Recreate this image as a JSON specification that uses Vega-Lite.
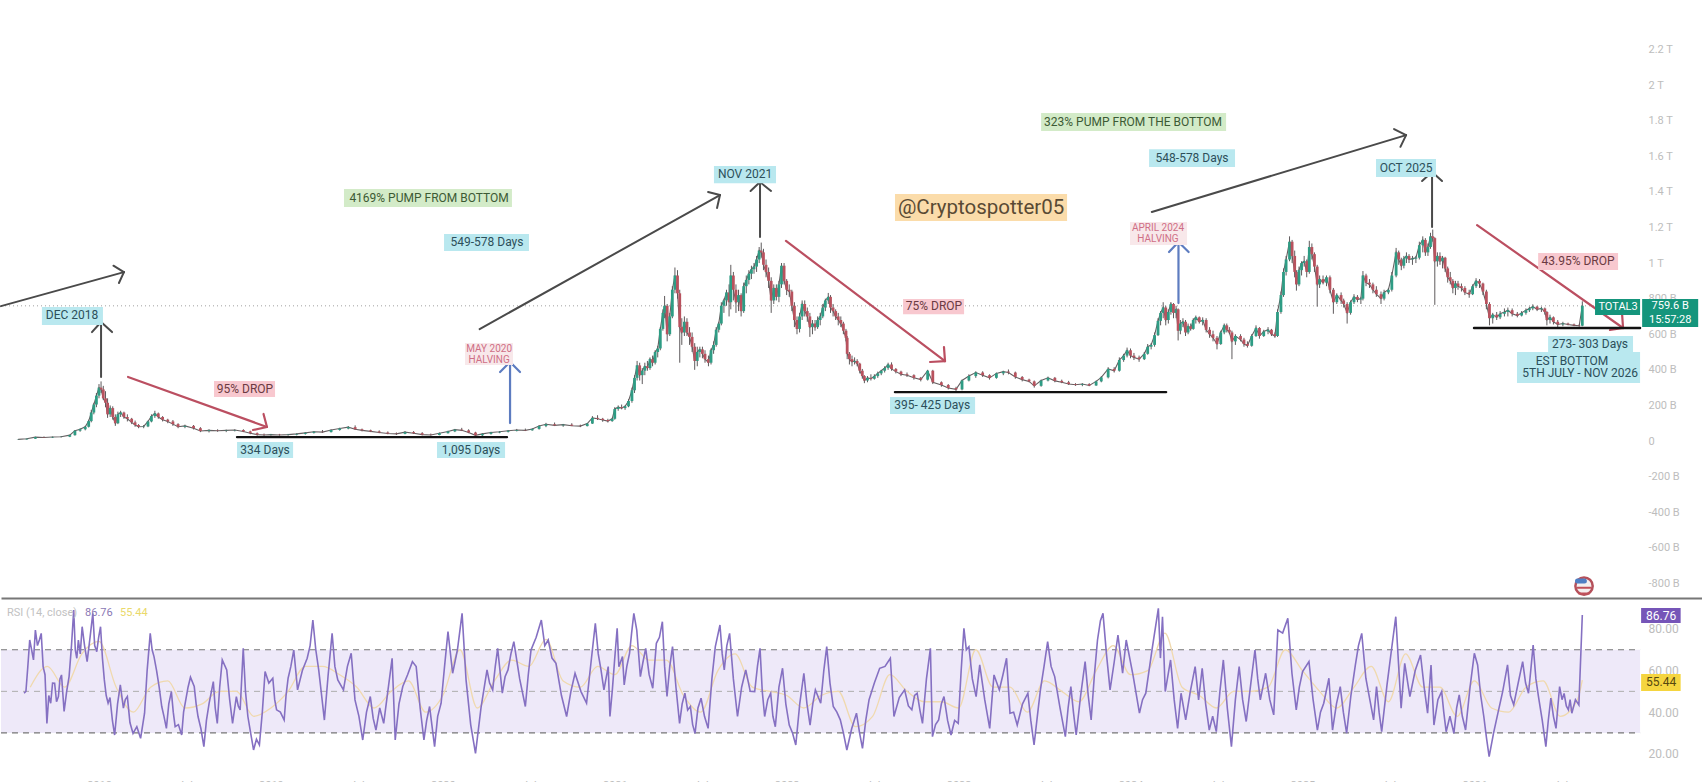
{
"$schema":"https://vega.github.io/schema/vega-lite/v6.json",
"background":"#ffffff",
"padding":0,
"spacing":0,
"bounds":"flush",
"config":{"view":{"stroke":null},"font":"Roboto","legend":{"disable":true},"axis":{"grid":false,"title":null}},
"datasets":{
"candles":[
{"t":2017.53,"o":8,"h":10,"l":6,"c":9},{"t":2017.58,"o":9,"h":14,"l":8,"c":13},{"t":2017.63,"o":13,"h":24,"l":12,"c":22},{"t":2017.68,"o":22,"h":26,"l":18,"c":20},{"t":2017.73,"o":20,"h":25,"l":17,"c":23},{"t":2017.78,"o":23,"h":28,"l":20,"c":24},{"t":2017.83,"o":24,"h":35,"l":22,"c":33},{"t":2017.86,"o":33,"h":62,"l":30,"c":58},{"t":2017.89,"o":58,"h":72,"l":52,"c":66},{"t":2017.92,"o":66,"h":85,"l":60,"c":80},{"t":2017.94,"o":80,"h":120,"l":76,"c":112},{"t":2017.955,"o":112,"h":175,"l":105,"c":160},{"t":2017.97,"o":160,"h":215,"l":150,"c":205},{"t":2017.985,"o":205,"h":270,"l":190,"c":255},{"t":2018,"o":255,"h":320,"l":240,"c":300},{"t":2018.012,"o":300,"h":335,"l":270,"c":290},{"t":2018.025,"o":290,"h":310,"l":230,"c":240},{"t":2018.038,"o":240,"h":280,"l":190,"c":215},{"t":2018.05,"o":215,"h":240,"l":130,"c":150},{"t":2018.065,"o":150,"h":200,"l":135,"c":185},{"t":2018.08,"o":185,"h":195,"l":120,"c":135},{"t":2018.095,"o":135,"h":150,"l":85,"c":100},{"t":2018.11,"o":100,"h":165,"l":95,"c":150},{"t":2018.126,"o":150,"h":170,"l":135,"c":160},{"t":2018.145,"o":160,"h":165,"l":125,"c":135},{"t":2018.165,"o":135,"h":150,"l":110,"c":125},{"t":2018.19,"o":125,"h":130,"l":95,"c":105},{"t":2018.21,"o":105,"h":115,"l":80,"c":90},{"t":2018.23,"o":90,"h":95,"l":72,"c":80},{"t":2018.26,"o":80,"h":90,"l":72,"c":82},{"t":2018.285,"o":82,"h":115,"l":78,"c":110},{"t":2018.305,"o":110,"h":150,"l":105,"c":140},{"t":2018.325,"o":140,"h":170,"l":130,"c":155},{"t":2018.345,"o":155,"h":160,"l":125,"c":135},{"t":2018.37,"o":135,"h":140,"l":110,"c":120},{"t":2018.4,"o":120,"h":125,"l":100,"c":110},{"t":2018.43,"o":110,"h":118,"l":85,"c":95},{"t":2018.46,"o":95,"h":100,"l":72,"c":80},{"t":2018.5,"o":80,"h":92,"l":72,"c":85},{"t":2018.55,"o":85,"h":90,"l":65,"c":72},{"t":2018.59,"o":72,"h":78,"l":50,"c":56},{"t":2018.64,"o":56,"h":66,"l":48,"c":60},{"t":2018.69,"o":60,"h":66,"l":52,"c":58},{"t":2018.74,"o":58,"h":64,"l":50,"c":60},{"t":2018.79,"o":60,"h":66,"l":54,"c":62},{"t":2018.84,"o":62,"h":66,"l":50,"c":54},{"t":2018.88,"o":54,"h":58,"l":38,"c":44},{"t":2018.92,"o":44,"h":48,"l":30,"c":36},{"t":2018.96,"o":36,"h":42,"l":28,"c":34},{"t":2019,"o":34,"h":40,"l":30,"c":36},{"t":2019.05,"o":36,"h":40,"l":30,"c":34},{"t":2019.1,"o":34,"h":40,"l":30,"c":36},{"t":2019.15,"o":36,"h":44,"l":32,"c":40},{"t":2019.2,"o":40,"h":50,"l":36,"c":46},{"t":2019.25,"o":46,"h":56,"l":42,"c":52},{"t":2019.3,"o":52,"h":62,"l":46,"c":50},{"t":2019.35,"o":50,"h":66,"l":48,"c":62},{"t":2019.4,"o":62,"h":75,"l":58,"c":70},{"t":2019.45,"o":70,"h":84,"l":66,"c":78},{"t":2019.49,"o":78,"h":88,"l":62,"c":66},{"t":2019.53,"o":66,"h":70,"l":54,"c":60},{"t":2019.58,"o":60,"h":64,"l":50,"c":54},{"t":2019.63,"o":54,"h":60,"l":44,"c":48},{"t":2019.68,"o":48,"h":54,"l":38,"c":42},{"t":2019.73,"o":42,"h":48,"l":34,"c":40},{"t":2019.78,"o":40,"h":56,"l":38,"c":50},{"t":2019.83,"o":50,"h":56,"l":40,"c":44},{"t":2019.88,"o":44,"h":50,"l":32,"c":36},{"t":2019.93,"o":36,"h":42,"l":30,"c":34},{"t":2019.98,"o":34,"h":48,"l":32,"c":44},{"t":2020.03,"o":44,"h":58,"l":42,"c":54},{"t":2020.07,"o":54,"h":68,"l":50,"c":64},{"t":2020.11,"o":64,"h":74,"l":56,"c":60},{"t":2020.15,"o":60,"h":66,"l":44,"c":48},{"t":2020.19,"o":48,"h":52,"l":24,"c":32},{"t":2020.23,"o":32,"h":44,"l":28,"c":40},{"t":2020.28,"o":40,"h":52,"l":36,"c":48},{"t":2020.33,"o":48,"h":56,"l":44,"c":52},{"t":2020.38,"o":52,"h":62,"l":48,"c":58},{"t":2020.43,"o":58,"h":68,"l":54,"c":62},{"t":2020.48,"o":62,"h":70,"l":56,"c":60},{"t":2020.52,"o":60,"h":72,"l":58,"c":68},{"t":2020.56,"o":68,"h":90,"l":64,"c":84},{"t":2020.6,"o":84,"h":102,"l":78,"c":94},{"t":2020.65,"o":94,"h":104,"l":84,"c":88},{"t":2020.7,"o":88,"h":96,"l":80,"c":92},{"t":2020.75,"o":92,"h":100,"l":84,"c":86},{"t":2020.8,"o":86,"h":92,"l":78,"c":84},{"t":2020.84,"o":84,"h":100,"l":82,"c":98},{"t":2020.87,"o":98,"h":140,"l":96,"c":130},{"t":2020.9,"o":130,"h":145,"l":118,"c":125},{"t":2020.93,"o":125,"h":130,"l":108,"c":118},{"t":2020.96,"o":118,"h":125,"l":104,"c":112},{"t":2020.985,"o":112,"h":130,"l":108,"c":125},{"t":2021,"o":125,"h":190,"l":120,"c":180},
{"t":2021.02,"o":180,"h":200,"l":170,"c":190},{"t":2021.04,"o":190,"h":205,"l":178,"c":185},{"t":2021.06,"o":185,"h":200,"l":175,"c":195},{"t":2021.08,"o":195,"h":235,"l":190,"c":225},{"t":2021.1,"o":225,"h":300,"l":215,"c":285},{"t":2021.115,"o":285,"h":370,"l":270,"c":355},{"t":2021.13,"o":355,"h":450,"l":340,"c":425},{"t":2021.145,"o":425,"h":440,"l":340,"c":370},{"t":2021.16,"o":370,"h":410,"l":320,"c":395},{"t":2021.175,"o":395,"h":440,"l":370,"c":420},{"t":2021.19,"o":420,"h":450,"l":395,"c":410},{"t":2021.205,"o":410,"h":470,"l":400,"c":460},{"t":2021.22,"o":460,"h":480,"l":420,"c":440},{"t":2021.235,"o":440,"h":510,"l":430,"c":500},{"t":2021.25,"o":500,"h":535,"l":470,"c":520},{"t":2021.265,"o":520,"h":640,"l":510,"c":630},{"t":2021.28,"o":630,"h":740,"l":620,"c":720},{"t":2021.29,"o":720,"h":815,"l":690,"c":760},{"t":2021.305,"o":760,"h":770,"l":560,"c":600},{"t":2021.32,"o":600,"h":720,"l":590,"c":700},{"t":2021.335,"o":700,"h":870,"l":690,"c":850},{"t":2021.35,"o":850,"h":975,"l":830,"c":930},{"t":2021.365,"o":930,"h":960,"l":800,"c":830},{"t":2021.378,"o":830,"h":850,"l":440,"c":640},{"t":2021.39,"o":640,"h":690,"l":540,"c":610},{"t":2021.405,"o":610,"h":700,"l":590,"c":670},{"t":2021.42,"o":670,"h":690,"l":590,"c":610},{"t":2021.435,"o":610,"h":640,"l":540,"c":585},{"t":2021.45,"o":585,"h":610,"l":500,"c":530},{"t":2021.465,"o":530,"h":550,"l":400,"c":450},{"t":2021.48,"o":450,"h":530,"l":420,"c":500},{"t":2021.495,"o":500,"h":530,"l":470,"c":515},{"t":2021.51,"o":515,"h":530,"l":465,"c":490},{"t":2021.525,"o":490,"h":510,"l":440,"c":460},{"t":2021.545,"o":460,"h":480,"l":420,"c":440},{"t":2021.56,"o":440,"h":520,"l":430,"c":510},{"t":2021.575,"o":510,"h":560,"l":490,"c":540},{"t":2021.59,"o":540,"h":640,"l":530,"c":625},{"t":2021.605,"o":625,"h":670,"l":610,"c":660},{"t":2021.62,"o":660,"h":780,"l":650,"c":760},{"t":2021.635,"o":760,"h":800,"l":720,"c":790},{"t":2021.65,"o":790,"h":850,"l":760,"c":835},{"t":2021.665,"o":835,"h":880,"l":700,"c":780},{"t":2021.675,"o":780,"h":990,"l":740,"c":930},{"t":2021.69,"o":930,"h":950,"l":790,"c":850},{"t":2021.705,"o":850,"h":880,"l":720,"c":780},{"t":2021.72,"o":780,"h":850,"l":730,"c":820},{"t":2021.735,"o":820,"h":830,"l":700,"c":730},{"t":2021.75,"o":730,"h":890,"l":720,"c":870},{"t":2021.765,"o":870,"h":930,"l":830,"c":905},{"t":2021.78,"o":905,"h":960,"l":880,"c":940},{"t":2021.795,"o":940,"h":985,"l":910,"c":965},{"t":2021.81,"o":965,"h":1000,"l":940,"c":980},{"t":2021.825,"o":980,"h":1040,"l":950,"c":1020},{"t":2021.84,"o":1020,"h":1090,"l":1000,"c":1070},{"t":2021.852,"o":1070,"h":1115,"l":1030,"c":1060},{"t":2021.865,"o":1060,"h":1080,"l":960,"c":990},{"t":2021.88,"o":990,"h":1020,"l":920,"c":950},{"t":2021.895,"o":950,"h":975,"l":860,"c":900},{"t":2021.91,"o":900,"h":920,"l":720,"c":790},{"t":2021.925,"o":790,"h":880,"l":770,"c":860},{"t":2021.94,"o":860,"h":880,"l":790,"c":810},{"t":2021.955,"o":810,"h":900,"l":780,"c":880},{"t":2021.97,"o":880,"h":1000,"l":860,"c":985},{"t":2021.985,"o":985,"h":1000,"l":880,"c":900},{"t":2022,"o":900,"h":910,"l":820,"c":850},{"t":2022.015,"o":850,"h":880,"l":810,"c":840},{"t":2022.03,"o":840,"h":850,"l":730,"c":760},{"t":2022.045,"o":760,"h":780,"l":640,"c":680},{"t":2022.06,"o":680,"h":700,"l":600,"c":630},{"t":2022.075,"o":630,"h":720,"l":610,"c":700},{"t":2022.09,"o":700,"h":790,"l":680,"c":770},{"t":2022.105,"o":770,"h":790,"l":700,"c":730},{"t":2022.12,"o":730,"h":750,"l":670,"c":700},{"t":2022.135,"o":700,"h":720,"l":585,"c":640},{"t":2022.15,"o":640,"h":680,"l":600,"c":660},{"t":2022.165,"o":660,"h":680,"l":620,"c":640},{"t":2022.18,"o":640,"h":700,"l":630,"c":680},{"t":2022.195,"o":680,"h":720,"l":650,"c":700},{"t":2022.21,"o":700,"h":770,"l":690,"c":750},{"t":2022.225,"o":750,"h":800,"l":730,"c":790},{"t":2022.242,"o":790,"h":832,"l":770,"c":810},{"t":2022.255,"o":810,"h":820,"l":720,"c":750},{"t":2022.27,"o":750,"h":770,"l":700,"c":730},{"t":2022.285,"o":730,"h":740,"l":680,"c":700},{"t":2022.3,"o":700,"h":720,"l":650,"c":680},{"t":2022.315,"o":680,"h":700,"l":640,"c":660},{"t":2022.33,"o":660,"h":670,"l":600,"c":620},{"t":2022.345,"o":620,"h":630,"l":560,"c":580},{"t":2022.352,"o":580,"h":590,"l":460,"c":490},{"t":2022.365,"o":490,"h":500,"l":430,"c":460},{"t":2022.38,"o":460,"h":480,"l":420,"c":445},{"t":2022.395,"o":445,"h":470,"l":430,"c":450},{"t":2022.41,"o":450,"h":460,"l":420,"c":435},{"t":2022.425,"o":435,"h":440,"l":380,"c":395},{"t":2022.44,"o":395,"h":405,"l":350,"c":365},{"t":2022.452,"o":365,"h":370,"l":325,"c":340},{"t":2022.47,"o":340,"h":365,"l":330,"c":355},{"t":2022.49,"o":355,"h":375,"l":340,"c":350},{"t":2022.51,"o":350,"h":375,"l":345,"c":365},{"t":2022.53,"o":365,"h":390,"l":355,"c":380},{"t":2022.55,"o":380,"h":400,"l":370,"c":395},{"t":2022.57,"o":395,"h":420,"l":385,"c":410},{"t":2022.59,"o":410,"h":440,"l":400,"c":430},{"t":2022.61,"o":430,"h":442,"l":395,"c":405},{"t":2022.635,"o":405,"h":410,"l":380,"c":390},{"t":2022.665,"o":390,"h":395,"l":365,"c":375},{"t":2022.7,"o":375,"h":385,"l":360,"c":370},{"t":2022.74,"o":370,"h":375,"l":345,"c":355},{"t":2022.78,"o":355,"h":360,"l":335,"c":345},{"t":2022.82,"o":345,"h":400,"l":340,"c":395},{"t":2022.85,"o":395,"h":400,"l":320,"c":330},{"t":2022.9,"o":330,"h":335,"l":305,"c":315},{"t":2022.94,"o":315,"h":320,"l":290,"c":298},{"t":2022.985,"o":298,"h":305,"l":280,"c":290},{"t":2023.02,"o":290,"h":345,"l":285,"c":340},{"t":2023.06,"o":340,"h":375,"l":335,"c":365},{"t":2023.1,"o":365,"h":392,"l":355,"c":385},{"t":2023.14,"o":385,"h":392,"l":360,"c":370},{"t":2023.18,"o":370,"h":375,"l":345,"c":355},{"t":2023.22,"o":355,"h":385,"l":350,"c":380},{"t":2023.26,"o":380,"h":395,"l":370,"c":390},{"t":2023.29,"o":390,"h":402,"l":375,"c":385},{"t":2023.33,"o":385,"h":390,"l":350,"c":360},{"t":2023.37,"o":360,"h":365,"l":335,"c":345},{"t":2023.41,"o":345,"h":350,"l":330,"c":335},{"t":2023.44,"o":335,"h":340,"l":300,"c":310},{"t":2023.48,"o":310,"h":345,"l":305,"c":340},{"t":2023.52,"o":340,"h":362,"l":335,"c":355},{"t":2023.56,"o":355,"h":360,"l":330,"c":338},{"t":2023.6,"o":338,"h":345,"l":325,"c":330},{"t":2023.64,"o":330,"h":338,"l":315,"c":320},{"t":2023.68,"o":320,"h":325,"l":310,"c":316},{"t":2023.72,"o":316,"h":325,"l":308,"c":320},{"t":2023.76,"o":320,"h":325,"l":308,"c":312},{"t":2023.8,"o":312,"h":340,"l":310,"c":335},{"t":2023.83,"o":335,"h":365,"l":330,"c":358},{"t":2023.87,"o":358,"h":415,"l":352,"c":405},{"t":2023.905,"o":405,"h":415,"l":385,"c":395},{"t":2023.935,"o":395,"h":470,"l":390,"c":455},{"t":2023.96,"o":455,"h":490,"l":445,"c":480},{"t":2023.98,"o":480,"h":525,"l":470,"c":510},
{"t":2024,"o":510,"h":520,"l":465,"c":480},{"t":2024.02,"o":480,"h":495,"l":455,"c":470},{"t":2024.05,"o":470,"h":480,"l":445,"c":460},{"t":2024.08,"o":460,"h":500,"l":455,"c":490},{"t":2024.1,"o":490,"h":545,"l":485,"c":530},{"t":2024.12,"o":530,"h":550,"l":515,"c":540},{"t":2024.14,"o":540,"h":610,"l":530,"c":595},{"t":2024.16,"o":595,"h":690,"l":590,"c":675},{"t":2024.175,"o":675,"h":730,"l":650,"c":720},{"t":2024.19,"o":720,"h":780,"l":690,"c":750},{"t":2024.205,"o":750,"h":760,"l":650,"c":680},{"t":2024.22,"o":680,"h":740,"l":660,"c":725},{"t":2024.235,"o":725,"h":780,"l":710,"c":770},{"t":2024.25,"o":770,"h":775,"l":690,"c":720},{"t":2024.265,"o":720,"h":760,"l":690,"c":740},{"t":2024.277,"o":740,"h":745,"l":565,"c":620},{"t":2024.29,"o":620,"h":680,"l":600,"c":660},{"t":2024.305,"o":660,"h":690,"l":640,"c":670},{"t":2024.32,"o":670,"h":680,"l":590,"c":610},{"t":2024.335,"o":610,"h":660,"l":600,"c":645},{"t":2024.35,"o":645,"h":660,"l":620,"c":630},{"t":2024.365,"o":630,"h":690,"l":625,"c":680},{"t":2024.38,"o":680,"h":705,"l":660,"c":695},{"t":2024.4,"o":695,"h":700,"l":660,"c":670},{"t":2024.42,"o":670,"h":695,"l":650,"c":680},{"t":2024.44,"o":680,"h":690,"l":610,"c":625},{"t":2024.46,"o":625,"h":640,"l":580,"c":600},{"t":2024.48,"o":600,"h":620,"l":560,"c":580},{"t":2024.503,"o":580,"h":590,"l":515,"c":545},{"t":2024.525,"o":545,"h":620,"l":540,"c":610},{"t":2024.545,"o":610,"h":660,"l":600,"c":650},{"t":2024.56,"o":650,"h":660,"l":610,"c":625},{"t":2024.575,"o":625,"h":640,"l":600,"c":610},{"t":2024.59,"o":610,"h":620,"l":460,"c":560},{"t":2024.61,"o":560,"h":600,"l":540,"c":590},{"t":2024.64,"o":590,"h":600,"l":560,"c":570},{"t":2024.66,"o":570,"h":580,"l":530,"c":545},{"t":2024.68,"o":545,"h":560,"l":525,"c":535},{"t":2024.705,"o":535,"h":600,"l":530,"c":590},{"t":2024.73,"o":590,"h":650,"l":585,"c":635},{"t":2024.75,"o":635,"h":640,"l":575,"c":590},{"t":2024.775,"o":590,"h":625,"l":585,"c":615},{"t":2024.8,"o":615,"h":640,"l":600,"c":625},{"t":2024.82,"o":625,"h":630,"l":590,"c":600},{"t":2024.84,"o":600,"h":610,"l":580,"c":590},{"t":2024.855,"o":590,"h":740,"l":585,"c":725},{"t":2024.875,"o":725,"h":840,"l":715,"c":820},{"t":2024.89,"o":820,"h":970,"l":810,"c":950},{"t":2024.905,"o":950,"h":1040,"l":930,"c":1020},{"t":2024.925,"o":1020,"h":1150,"l":1010,"c":1120},{"t":2024.94,"o":1120,"h":1130,"l":1000,"c":1040},{"t":2024.955,"o":1040,"h":1070,"l":920,"c":950},{"t":2024.965,"o":950,"h":960,"l":845,"c":880},{"t":2024.98,"o":880,"h":980,"l":870,"c":960},{"t":2024.995,"o":960,"h":1010,"l":930,"c":1000},{"t":2025.01,"o":1000,"h":1040,"l":980,"c":1010},{"t":2025.025,"o":1010,"h":1020,"l":920,"c":950},{"t":2025.04,"o":950,"h":1125,"l":940,"c":1090},{"t":2025.055,"o":1090,"h":1110,"l":1020,"c":1050},{"t":2025.07,"o":1050,"h":1060,"l":950,"c":980},{"t":2025.086,"o":980,"h":990,"l":755,"c":880},{"t":2025.1,"o":880,"h":930,"l":860,"c":910},{"t":2025.12,"o":910,"h":930,"l":880,"c":890},{"t":2025.14,"o":890,"h":930,"l":870,"c":920},{"t":2025.16,"o":920,"h":930,"l":830,"c":850},{"t":2025.18,"o":850,"h":860,"l":715,"c":780},{"t":2025.2,"o":780,"h":830,"l":770,"c":820},{"t":2025.225,"o":820,"h":835,"l":770,"c":790},{"t":2025.24,"o":790,"h":800,"l":750,"c":770},{"t":2025.26,"o":770,"h":780,"l":660,"c":720},{"t":2025.28,"o":720,"h":790,"l":710,"c":780},{"t":2025.3,"o":780,"h":825,"l":770,"c":810},{"t":2025.32,"o":810,"h":820,"l":780,"c":795},{"t":2025.34,"o":795,"h":810,"l":770,"c":800},{"t":2025.352,"o":800,"h":955,"l":790,"c":930},{"t":2025.37,"o":930,"h":940,"l":870,"c":890},{"t":2025.39,"o":890,"h":910,"l":860,"c":880},{"t":2025.41,"o":880,"h":890,"l":830,"c":850},{"t":2025.43,"o":850,"h":870,"l":810,"c":825},{"t":2025.457,"o":825,"h":840,"l":770,"c":800},{"t":2025.475,"o":800,"h":850,"l":790,"c":835},{"t":2025.5,"o":835,"h":860,"l":825,"c":850},{"t":2025.52,"o":850,"h":950,"l":840,"c":930},{"t":2025.545,"o":930,"h":1085,"l":920,"c":1060},{"t":2025.56,"o":1060,"h":1070,"l":990,"c":1020},{"t":2025.575,"o":1020,"h":1030,"l":960,"c":985},{"t":2025.59,"o":985,"h":1040,"l":970,"c":1025},{"t":2025.605,"o":1025,"h":1060,"l":1000,"c":1040},{"t":2025.62,"o":1040,"h":1050,"l":1000,"c":1020},{"t":2025.64,"o":1020,"h":1040,"l":990,"c":1025},{"t":2025.66,"o":1025,"h":1040,"l":1000,"c":1030},{"t":2025.68,"o":1030,"h":1120,"l":1020,"c":1100},{"t":2025.7,"o":1100,"h":1150,"l":1060,"c":1130},{"t":2025.715,"o":1130,"h":1140,"l":1040,"c":1060},{"t":2025.73,"o":1060,"h":1110,"l":1040,"c":1090},{"t":2025.745,"o":1090,"h":1170,"l":1080,"c":1150},{"t":2025.758,"o":1150,"h":1188,"l":1120,"c":1140},{"t":2025.77,"o":1140,"h":1145,"l":765,"c":1010},{"t":2025.785,"o":1010,"h":1060,"l":980,"c":1040},{"t":2025.8,"o":1040,"h":1060,"l":990,"c":1010},{"t":2025.815,"o":1010,"h":1040,"l":970,"c":1030},{"t":2025.83,"o":1030,"h":1035,"l":950,"c":970},{"t":2025.845,"o":970,"h":980,"l":890,"c":920},{"t":2025.86,"o":920,"h":950,"l":880,"c":900},{"t":2025.875,"o":900,"h":910,"l":830,"c":860},{"t":2025.89,"o":860,"h":900,"l":820,"c":885},{"t":2025.905,"o":885,"h":900,"l":850,"c":870},{"t":2025.925,"o":870,"h":885,"l":840,"c":860},{"t":2025.945,"o":860,"h":870,"l":820,"c":835},{"t":2025.97,"o":835,"h":850,"l":805,"c":825},{"t":2025.99,"o":825,"h":880,"l":820,"c":870},{"t":2026.01,"o":870,"h":915,"l":860,"c":900},{"t":2026.03,"o":900,"h":910,"l":860,"c":885},{"t":2026.05,"o":885,"h":890,"l":820,"c":840},{"t":2026.07,"o":840,"h":850,"l":740,"c":770},{"t":2026.088,"o":770,"h":780,"l":650,"c":690},{"t":2026.107,"o":690,"h":720,"l":660,"c":710},{"t":2026.13,"o":710,"h":725,"l":680,"c":695},{"t":2026.15,"o":695,"h":730,"l":685,"c":715},{"t":2026.175,"o":715,"h":745,"l":700,"c":725},{"t":2026.195,"o":725,"h":750,"l":700,"c":735},{"t":2026.22,"o":735,"h":745,"l":700,"c":715},{"t":2026.25,"o":715,"h":725,"l":695,"c":705},{"t":2026.275,"o":705,"h":730,"l":700,"c":720},{"t":2026.3,"o":720,"h":745,"l":710,"c":735},{"t":2026.32,"o":735,"h":755,"l":725,"c":745},{"t":2026.34,"o":745,"h":768,"l":735,"c":755},{"t":2026.365,"o":755,"h":760,"l":730,"c":740},{"t":2026.39,"o":740,"h":755,"l":725,"c":745},{"t":2026.41,"o":745,"h":750,"l":710,"c":725},{"t":2026.422,"o":725,"h":730,"l":650,"c":680},{"t":2026.44,"o":680,"h":710,"l":660,"c":695},{"t":2026.46,"o":695,"h":700,"l":655,"c":670},{"t":2026.485,"o":670,"h":680,"l":640,"c":655},{"t":2026.515,"o":655,"h":670,"l":645,"c":660},{"t":2026.545,"o":660,"h":665,"l":650,"c":655},{"t":2026.58,"o":655,"h":660,"l":645,"c":650},{"t":2026.61,"o":650,"h":655,"l":642,"c":648},{"t":2026.628,"o":648,"h":785,"l":645,"c":760}
],
"segments":[
{"t":2017.43,"p":758,"t2":2018.145,"p2":949,"kind":"dark"},{"t":2018.084,"p":985,"t2":2018.145,"p2":949,"kind":"dark"},{"t":2018.116,"p":888,"t2":2018.145,"p2":949,"kind":"dark"},
{"t":2018.012,"p":360,"t2":2018.012,"p2":669,"kind":"dark"},{"t":2017.959,"p":612,"t2":2018.012,"p2":669,"kind":"dark"},{"t":2018.076,"p":612,"t2":2018.012,"p2":669,"kind":"dark"},
{"t":2018.169,"p":360,"t2":2018.977,"p2":79,"kind":"red"},{"t":2018.957,"p":152,"t2":2018.977,"p2":79,"kind":"red"},{"t":2018.896,"p":62,"t2":2018.977,"p2":79,"kind":"red"},
{"t":2018.803,"p":22,"t2":2020.373,"p2":22,"kind":"base"},
{"t":2020.391,"p":101,"t2":2020.391,"p2":444,"kind":"blue"},{"t":2020.333,"p":388,"t2":2020.391,"p2":444,"kind":"blue"},{"t":2020.449,"p":388,"t2":2020.391,"p2":444,"kind":"blue"},
{"t":2020.214,"p":629,"t2":2021.612,"p2":1382,"kind":"dark"},{"t":2021.543,"p":1399,"t2":2021.612,"p2":1382,"kind":"dark"},{"t":2021.595,"p":1309,"t2":2021.612,"p2":1382,"kind":"dark"},
{"t":2021.845,"p":1146,"t2":2021.845,"p2":1455,"kind":"dark"},{"t":2021.79,"p":1405,"t2":2021.845,"p2":1455,"kind":"dark"},{"t":2021.909,"p":1405,"t2":2021.845,"p2":1455,"kind":"dark"},
{"t":2021.996,"p":1124,"t2":2022.921,"p2":449,"kind":"red"},{"t":2022.915,"p":528,"t2":2022.921,"p2":449,"kind":"red"},{"t":2022.834,"p":444,"t2":2022.921,"p2":449,"kind":"red"},
{"t":2022.63,"p":275,"t2":2024.207,"p2":275,"kind":"base"},
{"t":2024.279,"p":775,"t2":2024.279,"p2":1118,"kind":"blue"},{"t":2024.224,"p":1062,"t2":2024.279,"p2":1118,"kind":"blue"},{"t":2024.338,"p":1062,"t2":2024.279,"p2":1118,"kind":"blue"},
{"t":2024.124,"p":1287,"t2":2025.603,"p2":1719,"kind":"dark"},{"t":2025.533,"p":1753,"t2":2025.603,"p2":1719,"kind":"dark"},{"t":2025.57,"p":1653,"t2":2025.603,"p2":1719,"kind":"dark"},
{"t":2025.754,"p":1202,"t2":2025.754,"p2":1511,"kind":"dark"},{"t":2025.696,"p":1461,"t2":2025.754,"p2":1511,"kind":"dark"},{"t":2025.812,"p":1461,"t2":2025.754,"p2":1511,"kind":"dark"},
{"t":2026.016,"p":1213,"t2":2026.865,"p2":635,"kind":"red"},{"t":2026.859,"p":719,"t2":2026.865,"p2":635,"kind":"red"},{"t":2026.789,"p":624,"t2":2026.865,"p2":635,"kind":"red"},
{"t":2025.998,"p":635,"t2":2026.964,"p2":635,"kind":"base"},
{"t":2026.6,"p":-787,"t2":2026.64,"p2":-787,"kind":"flagBlue"},{"t":2026.6,"p":-824,"t2":2026.676,"p2":-824,"kind":"flagRed"},{"t":2026.608,"p":-857,"t2":2026.668,"p2":-857,"kind":"flagRed"}
],
"boxes":[
{"t":2017.668,"t2":2018.023,"p":753,"p2":652,"kind":"info"},{"t":2018.669,"t2":2019.024,"p":337,"p2":247,"kind":"drop"},{"t":2018.803,"t2":2019.129,"p":-6,"p2":-96,"kind":"info"},{"t":2019.966,"t2":2020.362,"p":-6,"p2":-96,"kind":"info"},{"t":2020.129,"t2":2020.408,"p":551,"p2":427,"kind":"halving"},{"t":2020.007,"t2":2020.501,"p":1163,"p2":1067,"kind":"info"},{"t":2019.425,"t2":2020.402,"p":1416,"p2":1315,"kind":"pump"},{"t":2021.577,"t2":2021.938,"p":1545,"p2":1449,"kind":"info"},{"t":2022.63,"t2":2023.631,"p":1388,"p2":1236,"kind":"brand"},{"t":2022.677,"t2":2023.032,"p":798,"p2":713,"kind":"drop"},{"t":2022.601,"t2":2023.096,"p":247,"p2":152,"kind":"info"},{"t":2023.997,"t2":2024.329,"p":1230,"p2":1101,"kind":"halving"},{"t":2023.48,"t2":2024.556,"p":1843,"p2":1742,"kind":"pump"},{"t":2024.108,"t2":2024.608,"p":1640,"p2":1539,"kind":"info"},{"t":2025.428,"t2":2025.777,"p":1584,"p2":1483,"kind":"info"},{"t":2026.371,"t2":2026.836,"p":1056,"p2":961,"kind":"drop"},{"t":2026.429,"t2":2026.923,"p":590,"p2":500,"kind":"info"},{"t":2026.248,"t2":2026.964,"p":500,"p2":326,"kind":"info"},{"t":2026.702,"t2":2026.964,"p":798,"p2":708,"kind":"tag"},{"t":2026.976,"t2":2027.302,"p":798,"p2":640,"kind":"tag"}
],
"texts":[
{"label":"DEC 2018","t":2017.843,"p":708,"kind":"info"},{"label":"95% DROP","t":2018.849,"p":292,"kind":"drop"},{"label":"334 Days","t":2018.966,"p":-51,"kind":"info"},{"label":"1,095 Days","t":2020.164,"p":-51,"kind":"info"},{"label":"MAY 2020","t":2020.269,"p":517,"kind":"halving"},{"label":"HALVING","t":2020.269,"p":455,"kind":"halving"},{"label":"549-578  Days","t":2020.257,"p":1118,"kind":"info"},{"label":"4169% PUMP FROM BOTTOM","t":2019.92,"p":1365,"kind":"pump"},{"label":"NOV 2021","t":2021.758,"p":1500,"kind":"info"},{"label":"@Cryptospotter05","t":2023.131,"p":1309,"kind":"brand"},{"label":"75% DROP","t":2022.857,"p":758,"kind":"drop"},{"label":"395- 425 Days","t":2022.846,"p":202,"kind":"info"},{"label":"APRIL 2024","t":2024.16,"p":1197,"kind":"halving"},{"label":"HALVING","t":2024.16,"p":1135,"kind":"halving"},{"label":"323% PUMP FROM THE BOTTOM","t":2024.015,"p":1792,"kind":"pump"},{"label":"548-578  Days","t":2024.358,"p":1590,"kind":"info"},{"label":"OCT 2025","t":2025.603,"p":1534,"kind":"info"},{"label":"43.95% DROP","t":2026.603,"p":1011,"kind":"drop"},{"label":"273- 303 Days","t":2026.673,"p":545,"kind":"info"},{"label":"EST BOTTOM","t":2026.568,"p":449,"kind":"info"},{"label":"5TH JULY - NOV 2026","t":2026.615,"p":382,"kind":"info"},{"label":"TOTAL3","t":2026.836,"p":753,"kind":"tag"},{"label":"759.6 B","t":2027.139,"p":758,"kind":"tag"},{"label":"15:57:28","t":2027.139,"p":680,"kind":"tag"}
],
"rsi":[
{"t":2017.564,"r":49.1},{"t":2017.575,"r":50},{"t":2017.586,"r":61.9},{"t":2017.597,"r":74.7},{"t":2017.608,"r":70},{"t":2017.619,"r":65.1},{"t":2017.63,"r":79.5},{"t":2017.642,"r":72},{"t":2017.653,"r":74.7},{"t":2017.664,"r":77.9},{"t":2017.675,"r":61.9},{"t":2017.686,"r":58},{"t":2017.697,"r":34.6},{"t":2017.708,"r":48},{"t":2017.719,"r":44.3},{"t":2017.73,"r":54},{"t":2017.742,"r":53.9},{"t":2017.753,"r":45},{"t":2017.764,"r":47.5},{"t":2017.773,"r":56},{"t":2017.782,"r":57.9},{"t":2017.797,"r":40.3},{"t":2017.812,"r":50},{"t":2017.826,"r":57.1},{"t":2017.84,"r":72},{"t":2017.853,"r":89.1},{"t":2017.862,"r":70},{"t":2017.871,"r":65.9},{"t":2017.88,"r":74.7},{"t":2017.891,"r":68},{"t":2017.902,"r":81.1},{"t":2017.916,"r":72},{"t":2017.931,"r":64.3},{"t":2017.948,"r":76},{"t":2017.964,"r":87.5},{"t":2017.975,"r":72},{"t":2017.987,"r":69.1},{"t":2017.998,"r":76},{"t":2018.009,"r":81.1},{"t":2018.02,"r":66},{"t":2018.031,"r":55.5},{"t":2018.042,"r":48},{"t":2018.053,"r":44.3},{"t":2018.064,"r":47},{"t":2018.078,"r":36},{"t":2018.091,"r":29},{"t":2018.108,"r":44},{"t":2018.124,"r":53.1},{"t":2018.142,"r":41.9},{"t":2018.153,"r":46},{"t":2018.165,"r":47.5},{"t":2018.18,"r":35},{"t":2018.198,"r":29.8},{"t":2018.22,"r":33},{"t":2018.242,"r":27.4},{"t":2018.265,"r":39.5},{"t":2018.28,"r":60},{"t":2018.298,"r":77.9},{"t":2018.309,"r":70},{"t":2018.32,"r":66.7},{"t":2018.335,"r":60},{"t":2018.35,"r":52},{"t":2018.365,"r":42.7},{"t":2018.378,"r":38},{"t":2018.392,"r":32.2},{"t":2018.406,"r":44},{"t":2018.421,"r":49.9},{"t":2018.432,"r":40},{"t":2018.443,"r":33},{"t":2018.462,"r":34},{"t":2018.481,"r":29},{"t":2018.492,"r":40},{"t":2018.503,"r":45.1},{"t":2018.518,"r":52},{"t":2018.532,"r":56.8},{"t":2018.554,"r":52.3},{"t":2018.565,"r":44},{"t":2018.576,"r":37.9},{"t":2018.593,"r":32},{"t":2018.61,"r":23.4},{"t":2018.625,"r":36},{"t":2018.64,"r":44},{"t":2018.665,"r":54.7},{"t":2018.676,"r":42},{"t":2018.688,"r":34.6},{"t":2018.702,"r":52},{"t":2018.717,"r":65.1},{"t":2018.743,"r":60.3},{"t":2018.76,"r":46},{"t":2018.777,"r":34.6},{"t":2018.799,"r":47.5},{"t":2018.81,"r":43},{"t":2018.821,"r":41.1},{"t":2018.839,"r":70.7},{"t":2018.852,"r":50},{"t":2018.866,"r":37.9},{"t":2018.882,"r":30},{"t":2018.899,"r":21.8},{"t":2018.916,"r":27},{"t":2018.933,"r":24.2},{"t":2018.95,"r":40},{"t":2018.966,"r":59.5},{"t":2018.988,"r":54},{"t":2019.011,"r":56.3},{"t":2019.022,"r":46},{"t":2019.033,"r":41.1},{"t":2019.055,"r":40},{"t":2019.077,"r":36.2},{"t":2019.088,"r":48},{"t":2019.1,"r":56.3},{"t":2019.116,"r":62},{"t":2019.133,"r":69.9},{"t":2019.155,"r":50.7},{"t":2019.183,"r":60},{"t":2019.211,"r":65.9},{"t":2019.228,"r":72},{"t":2019.244,"r":84.3},{"t":2019.261,"r":70},{"t":2019.278,"r":60.3},{"t":2019.295,"r":48},{"t":2019.311,"r":36.2},{"t":2019.333,"r":58},{"t":2019.356,"r":77.9},{"t":2019.372,"r":62},{"t":2019.389,"r":55.5},{"t":2019.422,"r":50.7},{"t":2019.445,"r":62},{"t":2019.467,"r":68.3},{"t":2019.489,"r":45.9},{"t":2019.512,"r":38},{"t":2019.534,"r":26.6},{"t":2019.556,"r":40},{"t":2019.578,"r":47.5},{"t":2019.595,"r":37},{"t":2019.611,"r":31.4},{"t":2019.633,"r":42},{"t":2019.656,"r":34.6},{"t":2019.68,"r":50},{"t":2019.705,"r":65.9},{"t":2019.723,"r":26.6},{"t":2019.745,"r":44},{"t":2019.767,"r":52.3},{"t":2019.795,"r":58},{"t":2019.823,"r":64.3},{"t":2019.845,"r":61.9},{"t":2019.868,"r":42},{"t":2019.89,"r":26.6},{"t":2019.906,"r":36},{"t":2019.923,"r":42.7},{"t":2019.952,"r":23.4},{"t":2019.97,"r":38},{"t":2019.99,"r":44.3},{"t":2020.01,"r":62},{"t":2020.03,"r":78.7},{"t":2020.057,"r":58.7},{"t":2020.085,"r":70},{"t":2020.112,"r":87.5},{"t":2020.135,"r":55.5},{"t":2020.162,"r":34},{"t":2020.19,"r":20.2},{"t":2020.222,"r":42},{"t":2020.257,"r":60.3},{"t":2020.272,"r":54},{"t":2020.29,"r":50.7},{"t":2020.305,"r":62},{"t":2020.319,"r":70.7},{"t":2020.346,"r":49.1},{"t":2020.362,"r":57},{"t":2020.379,"r":60.3},{"t":2020.396,"r":68},{"t":2020.413,"r":73.9},{"t":2020.447,"r":56},{"t":2020.48,"r":42.7},{"t":2020.497,"r":58},{"t":2020.513,"r":69.9},{"t":2020.543,"r":76},{"t":2020.573,"r":84.3},{"t":2020.593,"r":72},{"t":2020.613,"r":74.7},{"t":2020.635,"r":66},{"t":2020.658,"r":63.5},{"t":2020.69,"r":48},{"t":2020.72,"r":37.9},{"t":2020.745,"r":50},{"t":2020.769,"r":58.7},{"t":2020.803,"r":50},{"t":2020.836,"r":44.3},{"t":2020.862,"r":64},{"t":2020.887,"r":82.7},{"t":2020.904,"r":68},{"t":2020.92,"r":60.3},{"t":2020.937,"r":50.7},{"t":2020.962,"r":61.9},{"t":2020.972,"r":37.9},{"t":2020.986,"r":50.7},{"t":2021,"r":66},{"t":2021.014,"r":80.3},{"t":2021.024,"r":61.9},{"t":2021.045,"r":66.7},{"t":2021.055,"r":53.1},{"t":2021.07,"r":61.9},{"t":2021.086,"r":68.3},{"t":2021.098,"r":78},{"t":2021.111,"r":87.5},{"t":2021.128,"r":79.5},{"t":2021.149,"r":57.1},{"t":2021.164,"r":64},{"t":2021.18,"r":70.7},{"t":2021.2,"r":58},{"t":2021.221,"r":51.5},{"t":2021.242,"r":73.1},{"t":2021.26,"r":76},{"t":2021.277,"r":83.5},{"t":2021.29,"r":62},{"t":2021.304,"r":47.5},{"t":2021.32,"r":62},{"t":2021.336,"r":71.5},{"t":2021.356,"r":52},{"t":2021.377,"r":34.6},{"t":2021.392,"r":44},{"t":2021.408,"r":49.1},{"t":2021.424,"r":41},{"t":2021.44,"r":42.7},{"t":2021.453,"r":34},{"t":2021.467,"r":29.8},{"t":2021.484,"r":42},{"t":2021.502,"r":46.7},{"t":2021.522,"r":38},{"t":2021.543,"r":32.2},{"t":2021.565,"r":56},{"t":2021.585,"r":71.5},{"t":2021.612,"r":81.9},{"t":2021.625,"r":68},{"t":2021.637,"r":60.3},{"t":2021.652,"r":72},{"t":2021.668,"r":77.9},{"t":2021.69,"r":56},{"t":2021.714,"r":37.9},{"t":2021.738,"r":52},{"t":2021.762,"r":60.3},{"t":2021.788,"r":50},{"t":2021.814,"r":49.9},{"t":2021.83,"r":62},{"t":2021.845,"r":70.7},{"t":2021.858,"r":50},{"t":2021.872,"r":37.9},{"t":2021.89,"r":46},{"t":2021.907,"r":49.1},{"t":2021.92,"r":38},{"t":2021.934,"r":33},{"t":2021.955,"r":52},{"t":2021.976,"r":61.1},{"t":2021.995,"r":44},{"t":2022.015,"r":33.8},{"t":2022.034,"r":30},{"t":2022.053,"r":24.2},{"t":2022.076,"r":44},{"t":2022.1,"r":58.7},{"t":2022.118,"r":44},{"t":2022.136,"r":33.8},{"t":2022.152,"r":44},{"t":2022.167,"r":50.7},{"t":2022.198,"r":44.3},{"t":2022.216,"r":60},{"t":2022.233,"r":71.5},{"t":2022.252,"r":54},{"t":2022.271,"r":42.7},{"t":2022.292,"r":40},{"t":2022.312,"r":36.3},{"t":2022.33,"r":30},{"t":2022.35,"r":21.8},{"t":2022.378,"r":32},{"t":2022.406,"r":39.5},{"t":2022.424,"r":30},{"t":2022.441,"r":22.6},{"t":2022.46,"r":36},{"t":2022.479,"r":45.9},{"t":2022.51,"r":54},{"t":2022.541,"r":61.1},{"t":2022.572,"r":62},{"t":2022.603,"r":65.9},{"t":2022.624,"r":37.9},{"t":2022.655,"r":47},{"t":2022.686,"r":50.7},{"t":2022.708,"r":43},{"t":2022.728,"r":41.1},{"t":2022.744,"r":48},{"t":2022.759,"r":49.1},{"t":2022.775,"r":41},{"t":2022.79,"r":34.6},{"t":2022.813,"r":56},{"t":2022.836,"r":70.7},{"t":2022.848,"r":28.2},{"t":2022.866,"r":34},{"t":2022.884,"r":36.3},{"t":2022.9,"r":44},{"t":2022.915,"r":47.5},{"t":2022.936,"r":36},{"t":2022.956,"r":29},{"t":2022.977,"r":36},{"t":2022.998,"r":34.6},{"t":2023.015,"r":60},{"t":2023.031,"r":80.3},{"t":2023.045,"r":70},{"t":2023.06,"r":71.5},{"t":2023.08,"r":56},{"t":2023.102,"r":47.5},{"t":2023.123,"r":62.7},{"t":2023.152,"r":46},{"t":2023.181,"r":32.2},{"t":2023.194,"r":46},{"t":2023.206,"r":57.9},{"t":2023.237,"r":50.7},{"t":2023.258,"r":58},{"t":2023.279,"r":65.9},{"t":2023.299,"r":39.5},{"t":2023.32,"r":40},{"t":2023.341,"r":33.8},{"t":2023.372,"r":44},{"t":2023.403,"r":49.1},{"t":2023.42,"r":36},{"t":2023.439,"r":24.2},{"t":2023.458,"r":38},{"t":2023.476,"r":50.7},{"t":2023.497,"r":62},{"t":2023.518,"r":73.9},{"t":2023.538,"r":62},{"t":2023.559,"r":57.1},{"t":2023.59,"r":42},{"t":2023.621,"r":28.2},{"t":2023.637,"r":42},{"t":2023.653,"r":52.3},{"t":2023.668,"r":40},{"t":2023.684,"r":29},{"t":2023.71,"r":48},{"t":2023.736,"r":64.3},{"t":2023.754,"r":48},{"t":2023.771,"r":36.3},{"t":2023.79,"r":58},{"t":2023.808,"r":74.7},{"t":2023.825,"r":84},{"t":2023.84,"r":87.5},{"t":2023.86,"r":68},{"t":2023.881,"r":50.7},{"t":2023.905,"r":64},{"t":2023.927,"r":77.1},{"t":2023.954,"r":58.7},{"t":2023.975,"r":74.7},{"t":2024.014,"r":58},{"t":2024.052,"r":39.5},{"t":2024.07,"r":46},{"t":2024.089,"r":49.1},{"t":2024.125,"r":70},{"t":2024.162,"r":89.9},{"t":2024.174,"r":66},{"t":2024.186,"r":85.9},{"t":2024.202,"r":49.9},{"t":2024.233,"r":65.1},{"t":2024.254,"r":46},{"t":2024.274,"r":32.2},{"t":2024.294,"r":49.1},{"t":2024.321,"r":36.3},{"t":2024.348,"r":50},{"t":2024.376,"r":61.9},{"t":2024.396,"r":45.9},{"t":2024.417,"r":61.1},{"t":2024.437,"r":44},{"t":2024.458,"r":31.4},{"t":2024.478,"r":38},{"t":2024.499,"r":30.6},{"t":2024.52,"r":50},{"t":2024.54,"r":65.1},{"t":2024.563,"r":42},{"t":2024.587,"r":23.4},{"t":2024.61,"r":46},{"t":2024.632,"r":61.9},{"t":2024.652,"r":46},{"t":2024.673,"r":35.5},{"t":2024.7,"r":54},{"t":2024.724,"r":69.9},{"t":2024.74,"r":56},{"t":2024.755,"r":45.9},{"t":2024.786,"r":58.7},{"t":2024.81,"r":46},{"t":2024.833,"r":38.7},{"t":2024.857,"r":79.5},{"t":2024.885,"r":78},{"t":2024.915,"r":85.1},{"t":2024.939,"r":58.7},{"t":2024.964,"r":41.1},{"t":2024.982,"r":52},{"t":2025.001,"r":59.5},{"t":2025.038,"r":64.3},{"t":2025.062,"r":46},{"t":2025.087,"r":31.4},{"t":2025.105,"r":40},{"t":2025.124,"r":44.3},{"t":2025.154,"r":56.3},{"t":2025.175,"r":31.4},{"t":2025.198,"r":44},{"t":2025.22,"r":52.3},{"t":2025.238,"r":40},{"t":2025.257,"r":29.9},{"t":2025.282,"r":48},{"t":2025.308,"r":62.7},{"t":2025.326,"r":72},{"t":2025.345,"r":77.9},{"t":2025.369,"r":56.3},{"t":2025.392,"r":46},{"t":2025.414,"r":36.3},{"t":2025.431,"r":52.3},{"t":2025.446,"r":40},{"t":2025.461,"r":30.6},{"t":2025.492,"r":53.1},{"t":2025.518,"r":70},{"t":2025.543,"r":85.9},{"t":2025.574,"r":41.9},{"t":2025.595,"r":63.5},{"t":2025.625,"r":47.5},{"t":2025.656,"r":60},{"t":2025.687,"r":67.5},{"t":2025.708,"r":52},{"t":2025.728,"r":39.5},{"t":2025.748,"r":62.7},{"t":2025.765,"r":33.8},{"t":2025.788,"r":46},{"t":2025.81,"r":49.9},{"t":2025.822,"r":40},{"t":2025.836,"r":30.6},{"t":2025.858,"r":38},{"t":2025.881,"r":29.8},{"t":2025.897,"r":42},{"t":2025.912,"r":48.3},{"t":2025.93,"r":38},{"t":2025.949,"r":31.4},{"t":2025.975,"r":52},{"t":2026,"r":68.3},{"t":2026.019,"r":62.7},{"t":2026.037,"r":48},{"t":2026.055,"r":37.9},{"t":2026.07,"r":28},{"t":2026.086,"r":18.6},{"t":2026.112,"r":30},{"t":2026.137,"r":39.5},{"t":2026.165,"r":50},{"t":2026.193,"r":62.7},{"t":2026.21,"r":48},{"t":2026.229,"r":43.5},{"t":2026.255,"r":54},{"t":2026.281,"r":64.3},{"t":2026.298,"r":54},{"t":2026.315,"r":49.1},{"t":2026.328,"r":60},{"t":2026.342,"r":72.3},{"t":2026.358,"r":56},{"t":2026.373,"r":47.5},{"t":2026.395,"r":36},{"t":2026.416,"r":23.4},{"t":2026.43,"r":36},{"t":2026.445,"r":46.7},{"t":2026.46,"r":38},{"t":2026.475,"r":32.2},{"t":2026.485,"r":42},{"t":2026.496,"r":52.3},{"t":2026.51,"r":46},{"t":2026.522,"r":49},{"t":2026.535,"r":43},{"t":2026.547,"r":41.1},{"t":2026.557,"r":46},{"t":2026.567,"r":39.5},{"t":2026.588,"r":46},{"t":2026.608,"r":43.5},{"t":2026.628,"r":86.76}
],
"ma":[
{"t":2017.6,"r":52},{"t":2017.7,"r":62},{"t":2017.8,"r":52},{"t":2017.9,"r":68},{"t":2018,"r":74},{"t":2018.1,"r":52},{"t":2018.2,"r":40},{"t":2018.3,"r":52},{"t":2018.4,"r":55},{"t":2018.5,"r":42},{"t":2018.6,"r":44},{"t":2018.7,"r":50},{"t":2018.8,"r":50},{"t":2018.9,"r":38},{"t":2019,"r":42},{"t":2019.1,"r":50},{"t":2019.2,"r":62},{"t":2019.3,"r":62},{"t":2019.4,"r":58},{"t":2019.5,"r":52},{"t":2019.6,"r":42},{"t":2019.7,"r":50},{"t":2019.8,"r":55},{"t":2019.9,"r":40},{"t":2020,"r":48},{"t":2020.1,"r":70},{"t":2020.2,"r":42},{"t":2020.3,"r":55},{"t":2020.4,"r":65},{"t":2020.5,"r":62},{"t":2020.6,"r":75},{"t":2020.7,"r":55},{"t":2020.8,"r":52},{"t":2020.9,"r":62},{"t":2021,"r":58},{"t":2021.1,"r":72},{"t":2021.2,"r":65},{"t":2021.3,"r":65},{"t":2021.4,"r":48},{"t":2021.5,"r":40},{"t":2021.6,"r":60},{"t":2021.7,"r":68},{"t":2021.8,"r":52},{"t":2021.9,"r":50},{"t":2022,"r":48},{"t":2022.1,"r":42},{"t":2022.2,"r":48},{"t":2022.3,"r":50},{"t":2022.4,"r":33},{"t":2022.5,"r":38},{"t":2022.6,"r":58},{"t":2022.7,"r":50},{"t":2022.8,"r":45},{"t":2022.9,"r":45},{"t":2023,"r":42},{"t":2023.1,"r":70},{"t":2023.2,"r":52},{"t":2023.3,"r":52},{"t":2023.4,"r":40},{"t":2023.5,"r":55},{"t":2023.6,"r":50},{"t":2023.7,"r":45},{"t":2023.8,"r":60},{"t":2023.9,"r":72},{"t":2024,"r":58},{"t":2024.1,"r":60},{"t":2024.2,"r":78},{"t":2024.3,"r":52},{"t":2024.4,"r":48},{"t":2024.5,"r":42},{"t":2024.6,"r":50},{"t":2024.7,"r":50},{"t":2024.8,"r":52},{"t":2024.9,"r":70},{"t":2025,"r":60},{"t":2025.1,"r":50},{"t":2025.2,"r":42},{"t":2025.3,"r":52},{"t":2025.4,"r":62},{"t":2025.5,"r":45},{"t":2025.6,"r":68},{"t":2025.7,"r":52},{"t":2025.8,"r":52},{"t":2025.9,"r":38},{"t":2026,"r":55},{"t":2026.1,"r":42},{"t":2026.2,"r":40},{"t":2026.3,"r":52},{"t":2026.4,"r":55},{"t":2026.5,"r":38},{"t":2026.6,"r":46},{"t":2026.628,"r":55.44}
]
},
"vconcat":[
{
"width":1702,"height":598,
"encoding":{
"x":{"field":"t","type":"quantitative","scale":{"domain":[2017.43,2027.33],"nice":false,"zero":false,"padding":0},"axis":{"domain":true,"domainColor":"#777777","domainWidth":2,"labels":false,"ticks":false}},
"y":{"field":"p","type":"quantitative","scale":{"domain":[-882,2478],"nice":false,"zero":false},"axis":{"orient":"right","domain":false,"ticks":false,"labelPadding":-55,"labelAlign":"left","labelColor":"#bdbdbd","labelFontSize":11,"labelOverlap":false,"labelBound":false,"labelFlush":false,"values":[-800,-600,-400,-200,0,200,400,600,800,1000,1200,1400,1600,1800,2000,2200],"labelExpr":"datum.value==0 ? '0' : abs(datum.value)>=1000 ? format(datum.value/1000,'.1~f')+' T' : datum.value+' B'"}}
},
"resolve":{"scale":{"color":"independent"}},
"layer":[
{"data":{"values":[{"t":2017.43,"t2":2026.7,"p":759.6}]},"mark":{"type":"rule","color":"#a0a0a0","strokeDash":[1,3],"strokeWidth":1},"encoding":{"x2":{"field":"t2"}}},
{"data":{"name":"candles"},"mark":{"type":"line","color":"#666062","strokeWidth":1.1},"encoding":{"y":{"field":"c","type":"quantitative"}}},
{"data":{"name":"candles"},"mark":{"type":"rule","color":"#5e5a5c","strokeWidth":1},"encoding":{"y":{"field":"l","type":"quantitative"},"y2":{"field":"h"}}},
{"data":{"name":"candles"},"mark":{"type":"bar","size":2.8},"encoding":{"y":{"field":"o","type":"quantitative"},"y2":{"field":"c"},"color":{"condition":{"test":"datum.c>=datum.o","value":"#2e9c84"},"value":"#b8525e"}}},
{"data":{"values":[{"t":2026.638,"p":-815}]},"mark":{"type":"point","shape":"circle","filled":true,"size":300,"color":"#f4efef","stroke":"#b5505a","strokeWidth":2.5,"opacity":1}},
{"data":{"name":"segments"},"mark":{"type":"rule","strokeCap":"round"},"encoding":{"x2":{"field":"t2"},"y2":{"field":"p2"},"color":{"field":"kind","type":"nominal","scale":{"domain":["dark","red","blue","base","flagBlue","flagRed"],"range":["#4a4a4a","#bb4f61","#5d7cc0","#111111","#4f7fc4","#c0505a"]}},"strokeWidth":{"field":"kind","type":"nominal","scale":{"type":"ordinal","domain":["dark","red","blue","base","flagBlue","flagRed"],"range":[2,2.2,2.2,2.4,5,2]}}}},
{"data":{"name":"boxes"},"mark":{"type":"rect"},"encoding":{"x2":{"field":"t2"},"y2":{"field":"p2"},"color":{"field":"kind","type":"nominal","scale":{"domain":["info","drop","pump","halving","brand","tag"],"range":["#b9e8ef","#f8c8cf","#d3ebc8","#f8e8ea","#fbdcaa","#15957c"]}}}},
{"data":{"name":"texts"},"mark":{"type":"text","align":"center","baseline":"middle"},"encoding":{"text":{"field":"label","type":"nominal"},"color":{"field":"kind","type":"nominal","scale":{"domain":["info","drop","pump","halving","brand","tag"],"range":["#2c4f5a","#6b3a42","#3c5a34","#cf6f86","#594a34","#ffffff"]}},"size":{"field":"kind","type":"nominal","scale":{"type":"ordinal","domain":["info","drop","pump","halving","brand","tag"],"range":[12,12,12,10,20.5,11]}}}}
]
},
{
"width":1702,"height":184,
"encoding":{
"x":{"field":"t","type":"quantitative","scale":{"domain":[2017.43,2027.33],"nice":false,"zero":false},"axis":{"domain":false,"ticks":false,"labelColor":"#bdbdbd","labelFontSize":11,"labelPadding":-3,"labelOverlap":false,"labelFlush":false,"values":[2018,2018.5,2019,2019.5,2020,2020.5,2021,2021.5,2022,2022.5,2023,2023.5,2024,2024.5,2025,2025.5,2026,2026.5],"labelExpr":"datum.value%1==0 ? format(datum.value,'d') : 'Jul'"}},
"y":{"field":"r","type":"quantitative","scale":{"domain":[6.4,94.9],"nice":false,"zero":false},"axis":{"orient":"right","domain":false,"ticks":false,"labelPadding":-55,"labelAlign":"left","labelColor":"#bdbdbd","labelFontSize":12,"labelOverlap":false,"labelBound":false,"labelFlush":false,"values":[20,40,60,80],"format":".2f"}}
},
"resolve":{"scale":{"color":"independent"}},
"layer":[
{"data":{"values":[{"t":2017.43,"t2":2026.964,"r":70,"r2":30}]},"mark":{"type":"rect","color":"#eee9f9"},"encoding":{"x2":{"field":"t2"},"y2":{"field":"r2"}}},
{"data":{"values":[{"t":2017.43,"t2":2026.964,"r":70},{"t":2017.43,"t2":2026.964,"r":30}]},"mark":{"type":"rule","color":"#777777","strokeDash":[6,5],"strokeWidth":1.2},"encoding":{"x2":{"field":"t2"}}},
{"data":{"values":[{"t":2017.43,"t2":2026.964,"r":50}]},"mark":{"type":"rule","color":"#adadad","strokeDash":[6,5],"strokeWidth":1},"encoding":{"x2":{"field":"t2"}}},
{"data":{"name":"ma"},"mark":{"type":"line","color":"#f0d9ae","strokeWidth":1.3,"interpolate":"monotone"}},
{"data":{"name":"rsi"},"mark":{"type":"line","color":"#8570c2","strokeWidth":1.6}},
{"data":{"values":[{"t":2026.97,"t2":2027.2,"r":90.1,"r2":82.9,"kind":"purple"},{"t":2026.97,"t2":2027.2,"r":58.4,"r2":50.2,"kind":"yellow"}]},"mark":{"type":"rect"},"encoding":{"x2":{"field":"t2"},"y2":{"field":"r2"},"color":{"field":"kind","type":"nominal","scale":{"domain":["purple","yellow"],"range":["#7655b8","#f5d53f"]}}}},
{"data":{"values":[{"label":"86.76","t":2027.086,"r":86.4,"kind":"purple"},{"label":"55.44","t":2027.086,"r":54.3,"kind":"yellow"}]},"mark":{"type":"text","align":"center","baseline":"middle","fontSize":12},"encoding":{"text":{"field":"label","type":"nominal"},"color":{"field":"kind","type":"nominal","scale":{"domain":["purple","yellow"],"range":["#ffffff","#55480f"]}}}},
{"data":{"values":[{"label":"RSI (14, close)","t":2017.465,"r":87.8,"kind":"name"},{"label":"86.76","t":2017.919,"r":87.8,"kind":"rsi"},{"label":"55.44","t":2018.122,"r":87.8,"kind":"ma"}]},"mark":{"type":"text","align":"left","baseline":"middle","fontSize":11},"encoding":{"text":{"field":"label","type":"nominal"},"color":{"field":"kind","type":"nominal","scale":{"domain":["name","rsi","ma"],"range":["#c2c2c2","#8a78b5","#ead96a"]}}}}
]
}
]
}
